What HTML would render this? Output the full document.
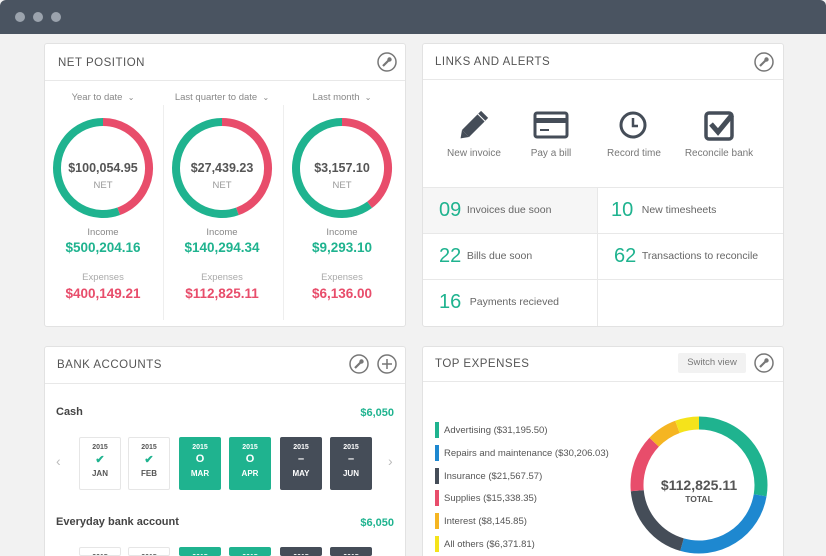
<!DOCTYPE html>
<html><head><meta charset="utf-8">
<style>
*{box-sizing:border-box;margin:0;padding:0}
html{width:826px;height:556px;overflow:hidden}
body{width:826px;height:556px;overflow:hidden;background:#f2f2f2;font-family:"Liberation Sans",sans-serif;position:relative;color:#555}
.abs{position:absolute}
.topbar{left:0;top:0;width:826px;height:34px;background:#4a5461;border-radius:6px 6px 0 0}
.dot{width:10px;height:10px;border-radius:50%;background:#9ba3ad;top:12px}
.panel{background:#fff;border:1px solid #e2e2e2;border-radius:3px}
.ptitle{font-size:11.5px;letter-spacing:.5px;color:#555}
.hline{height:1px;background:#e8e8e8}
.icon-btn{width:20px;height:20px}
.c{text-align:center}
.green{color:#1fb38f}.red{color:#e84d6b}
.mbox{width:42px;height:53px;border:1px solid #e6e6e6;border-radius:2px;text-align:center;font-size:7px;font-weight:bold;color:#555}
.mbox.g{background:#1fb38f;border-color:#1fb38f;color:#fff}
.mbox.d{background:#454d58;border-color:#454d58;color:#fff}
.mbox .y{margin-top:6px}.mbox .s{font-size:11px;height:14px;margin-top:2px}.mbox .m{font-size:8px;margin-top:2px}
.leg{font-size:9.5px;color:#555}
.legbar{width:4px;height:16px}
</style></head><body>
<div class="abs topbar"></div>
<div class="abs dot" style="left:15px"></div>
<div class="abs dot" style="left:33px"></div>
<div class="abs dot" style="left:51px"></div>

<!-- NET POSITION -->
<div class="abs panel" style="left:44px;top:43px;width:362px;height:284px"></div>
<div class="abs ptitle" style="left:58px;top:57px">NET POSITION</div>
<svg class="abs icon-btn" style="left:377px;top:52px" viewBox="0 0 20 20"><circle cx="10" cy="10" r="9" fill="none" stroke="#777" stroke-width="1.5"/><path d="M6 14l6-6" stroke="#777" stroke-width="2.2"/><circle cx="12.5" cy="7.5" r="2.2" fill="#777"/></svg>
<div class="abs hline" style="left:45px;top:80px;width:360px"></div>
<div class="abs" style="left:163px;top:105px;width:1px;height:215px;background:#eee"></div>
<div class="abs" style="left:283px;top:105px;width:1px;height:215px;background:#eee"></div>
<svg class="abs" style="left:0;top:0" width="826" height="556" id="netsvg"></svg>
<div id="netcols"></div>

<!-- LINKS AND ALERTS -->
<div class="abs panel" style="left:422px;top:43px;width:362px;height:284px"></div>
<div class="abs ptitle" style="left:435px;top:56px">LINKS AND ALERTS</div>
<svg class="abs icon-btn" style="left:754px;top:52px" viewBox="0 0 20 20"><circle cx="10" cy="10" r="9" fill="none" stroke="#777" stroke-width="1.5"/><path d="M6 14l6-6" stroke="#777" stroke-width="2.2"/><circle cx="12.5" cy="7.5" r="2.2" fill="#777"/></svg>
<div class="abs hline" style="left:423px;top:79px;width:360px"></div>
<svg class="abs" style="left:422px;top:100px" width="362" height="50">
 <g transform="translate(52,25) rotate(-45)"><rect x="-12" y="-5" width="22" height="10" fill="#454d58"/><polygon points="-12,-5 -19,0 -12,5" fill="#454d58"/><rect x="11" y="-5" width="4" height="10" fill="#454d58"/></g>
 <g><rect x="113" y="13" width="32" height="24" rx="2" fill="none" stroke="#454d58" stroke-width="3"/><rect x="113" y="18" width="32" height="5" fill="#454d58"/><rect x="118" y="29" width="9" height="2" fill="#454d58"/></g>
 <g><circle cx="211" cy="25" r="12" fill="none" stroke="#454d58" stroke-width="3"/><path d="M211 18v8h5" stroke="#454d58" stroke-width="2.5" fill="none"/></g>
 <g><rect x="284" y="13" width="26" height="26" rx="3" fill="none" stroke="#454d58" stroke-width="3.5"/><path d="M289 24l7 8 14-17" stroke="#454d58" stroke-width="5" fill="none"/></g>
</svg>
<div class="abs c" style="left:438px;top:148px;width:72px;font-size:10px;color:#777">New invoice</div>
<div class="abs c" style="left:516px;top:148px;width:70px;font-size:10px;color:#777">Pay a bill</div>
<div class="abs c" style="left:598px;top:148px;width:72px;font-size:10px;color:#777">Record time</div>
<div class="abs c" style="left:678px;top:148px;width:82px;font-size:10px;color:#777">Reconcile bank</div>
<div class="abs" style="left:423px;top:187px;width:174px;height:46px;background:#f6f6f6"></div>
<div class="abs hline" style="left:423px;top:187px;width:360px"></div>
<div class="abs hline" style="left:423px;top:233px;width:360px"></div>
<div class="abs hline" style="left:423px;top:279px;width:360px"></div>
<div class="abs" style="left:597px;top:187px;width:1px;height:139px;background:#e8e8e8"></div>
<div class="abs" style="left:439px;top:199px;font-size:20px;color:#1fb38f">09 <span style="font-size:10.5px;color:#666;vertical-align:3px">Invoices due soon</span></div>
<div class="abs" style="left:611px;top:199px;font-size:20px;color:#1fb38f">10 <span style="font-size:10.5px;color:#666;vertical-align:3px">&nbsp;New timesheets</span></div>
<div class="abs" style="left:439px;top:245px;font-size:20px;color:#1fb38f">22 <span style="font-size:10.5px;color:#666;vertical-align:3px">Bills due soon</span></div>
<div class="abs" style="left:614px;top:245px;font-size:20px;color:#1fb38f">62 <span style="font-size:10.5px;color:#666;vertical-align:3px">Transactions to reconcile</span></div>
<div class="abs" style="left:439px;top:291px;font-size:20px;color:#1fb38f">16 <span style="font-size:10.5px;color:#666;vertical-align:3px">&nbsp;Payments recieved</span></div>

<!-- BANK ACCOUNTS -->
<div class="abs panel" style="left:44px;top:346px;width:362px;height:210px;border-bottom:none;border-radius:3px 3px 0 0"></div>
<div class="abs ptitle" style="left:57px;top:359px">BANK ACCOUNTS</div>
<svg class="abs icon-btn" style="left:349px;top:354px" viewBox="0 0 20 20"><circle cx="10" cy="10" r="9" fill="none" stroke="#777" stroke-width="1.5"/><path d="M6 14l6-6" stroke="#777" stroke-width="2.2"/><circle cx="12.5" cy="7.5" r="2.2" fill="#777"/></svg>
<svg class="abs icon-btn" style="left:377px;top:354px" viewBox="0 0 20 20"><circle cx="10" cy="10" r="9" fill="none" stroke="#777" stroke-width="1.5"/><path d="M10 5v10M5 10h10" stroke="#777" stroke-width="1.5"/></svg>
<div class="abs hline" style="left:45px;top:383px;width:360px"></div>
<div class="abs" style="left:56px;top:406px;font-size:11px;font-weight:bold;color:#444">Cash</div>
<div class="abs green" style="left:340px;top:407px;width:54px;text-align:right;font-size:11px;font-weight:bold">$6,050</div>
<div class="abs" style="left:56px;top:516px;font-size:11px;font-weight:bold;color:#444">Everyday bank account</div>
<div class="abs green" style="left:340px;top:517px;width:54px;text-align:right;font-size:11px;font-weight:bold">$6,050</div>
<div class="abs" style="left:56px;top:453px;font-size:14px;color:#bbb">&#8249;</div>
<div class="abs" style="left:388px;top:453px;font-size:14px;color:#bbb">&#8250;</div>
<div id="months"></div>

<!-- TOP EXPENSES -->
<div class="abs panel" style="left:422px;top:346px;width:362px;height:210px;border-bottom:none;border-radius:3px 3px 0 0"></div>
<div class="abs ptitle" style="left:435px;top:358px">TOP EXPENSES</div>
<div class="abs c" style="left:678px;top:353px;width:68px;height:20px;background:#f2f2f2;border-radius:2px;font-size:9.5px;line-height:20px;color:#777">Switch view</div>
<svg class="abs icon-btn" style="left:754px;top:353px" viewBox="0 0 20 20"><circle cx="10" cy="10" r="9" fill="none" stroke="#777" stroke-width="1.5"/><path d="M6 14l6-6" stroke="#777" stroke-width="2.2"/><circle cx="12.5" cy="7.5" r="2.2" fill="#777"/></svg>
<div class="abs hline" style="left:423px;top:381px;width:360px"></div>
<svg class="abs" style="left:0;top:0" width="826" height="556" id="expsvg"></svg>
<div id="legend"></div>

<script>
// Net position data
var netLabels=["Year to date","Last quarter to date","Last month"];
var netValues=["$100,054.95","$27,439.23","$3,157.10"];
var incomeValues=[500204.16,140294.34,9293.10];
var expenseValues=[400149.21,112825.11,6136.00];
// Top expenses data
var expCategories=["Advertising","Repairs and maintenance","Insurance","Supplies","Interest","All others"];
var expAmounts=[31195.50,30206.03,21567.57,15338.35,8145.85,6371.81];
var expColors=["#1fb38f","#1e88d0","#454d58","#e84d6b","#f5b522","#f5e31b"];
// Bank months data
var monthNames=["JAN","FEB","MAR","APR","MAY","JUN"];
var monthStatus=["ok","ok","open","open","none","none"];

var NS="http://www.w3.org/2000/svg";
function fmt(v){return "$"+v.toLocaleString("en-US",{minimumFractionDigits:2,maximumFractionDigits:2});}
function arc(svg,cx,cy,r,a0,a1,col,w){
  var p=document.createElementNS(NS,"path");
  var x0=cx+r*Math.sin(a0),y0=cy-r*Math.cos(a0),x1=cx+r*Math.sin(a1),y1=cy-r*Math.cos(a1);
  var large=(a1-a0)>Math.PI?1:0;
  p.setAttribute("d","M"+x0+" "+y0+"A"+r+" "+r+" 0 "+large+" 1 "+x1+" "+y1);
  p.setAttribute("fill","none");p.setAttribute("stroke",col);p.setAttribute("stroke-width",w);
  svg.appendChild(p);return p;
}
var netsvg=document.getElementById("netsvg"),cols=document.getElementById("netcols");
var colX=[103,222,342];
for(var i=0;i<3;i++){
  var tot=incomeValues[i]+expenseValues[i];
  var fr=expenseValues[i]/tot*2*Math.PI;
  var a=arc(netsvg,colX[i],168,46,0,fr,"#e84d6b",8);
  
  
  var b=arc(netsvg,colX[i],168,46,fr,2*Math.PI-0.0001,"#1fb38f",8);
  
  
  var x=colX[i]-60;
  var h='<div class="abs c" style="left:'+x+'px;top:92px;width:120px;font-size:9.5px;color:#888">'+netLabels[i]+' &nbsp;<span style="font-size:8px">&#8964;</span></div>'+
  '<div class="abs c" style="left:'+x+'px;top:161px;width:120px;font-size:12.5px;font-weight:bold;color:#555">'+netValues[i]+'</div>'+
  '<div class="abs c" style="left:'+x+'px;top:180px;width:120px;font-size:9.5px;color:#999">NET</div>'+
  '<div class="abs c" style="left:'+x+'px;top:227px;width:120px;font-size:9.5px;color:#888">Income</div>'+
  '<div class="abs c green" style="left:'+x+'px;top:240px;width:120px;font-size:13.5px;font-weight:bold">'+fmt(incomeValues[i])+'</div>'+
  '<div class="abs c" style="left:'+x+'px;top:272px;width:120px;font-size:9.5px;color:#aaa">Expenses</div>'+
  '<div class="abs c red" style="left:'+x+'px;top:286px;width:120px;font-size:13.5px;font-weight:bold">'+fmt(expenseValues[i])+'</div>';
  cols.insertAdjacentHTML("beforeend",h);
}
// months
var mHtml="",mX=[79,128,179,229,280,330],rows=[437,547];
for(var r=0;r<2;r++)for(var j=0;j<monthNames.length;j++){
  var st=monthStatus[j],cls=st=="open"?"g":(st=="none"?"d":"");
  var sym=st=="ok"?'<span style="color:#1fb38f">&#10004;</span>':(st=="open"?"O":"&ndash;");
  var hgt=r==1?'height:9px;overflow:hidden;':'';
  mHtml+='<div class="abs mbox '+cls+'" style="'+hgt+'left:'+mX[j]+'px;top:'+rows[r]+'px"><div class="y">2015</div><div class="s">'+sym+'</div><div class="m">'+monthNames[j]+'</div></div>';
}
document.getElementById("months").innerHTML=mHtml;
// expenses donut
var expsvg=document.getElementById("expsvg");
var total=expAmounts.reduce(function(s,v){return s+v},0);
var acc=0;
for(var k=0;k<expAmounts.length;k++){
  var a0=acc/total*2*Math.PI;acc+=expAmounts[k];var a1=acc/total*2*Math.PI;
  var s=arc(expsvg,699,485,62,a0,a1-0.0001,expColors[k],13);
  
  
}
var lg="",ly=[422,445,468,490,513,536];
for(var k=0;k<expCategories.length;k++){
  lg+='<div class="abs legbar" style="left:435px;top:'+ly[k]+'px;background:'+expColors[k]+'"></div>'+
  '<div class="abs leg" style="left:444px;top:'+(ly[k]+3)+'px">'+expCategories[k]+' ('+fmt(expAmounts[k])+')</div>';
}
lg+='<div class="abs c" style="left:639px;top:477px;width:120px;font-size:14px;font-weight:bold;color:#555">'+fmt(total)+'</div>'+
'<div class="abs c" style="left:639px;top:494px;width:120px;font-size:8.5px;font-weight:bold;color:#555">TOTAL</div>';
document.getElementById("legend").innerHTML=lg;
</script>
</body></html>
